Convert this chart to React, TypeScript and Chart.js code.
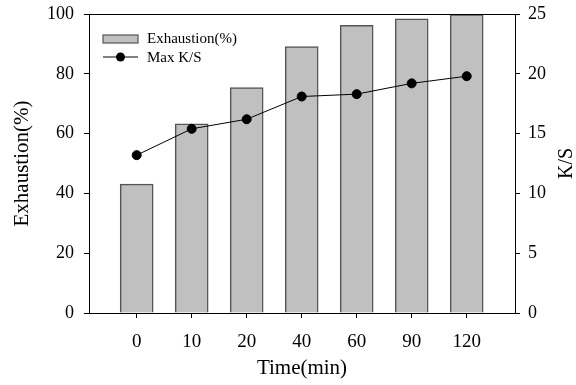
import React, { useEffect, useRef } from "react";
import { Chart, registerables } from "chart.js";

Chart.register(...registerables);

const categories = ["0", "10", "20", "40", "60", "90", "120"];
const exhaustion = [43.1, 63.3, 75.4, 89.1, 96.2, 98.4, 99.8];
const maxKS = [13.2, 15.4, 16.2, 18.1, 18.3, 19.2, 19.8];
const leftTicks = [0, 20, 40, 60, 80, 100];
const rightTicks = [0, 5, 10, 15, 20, 25];

const FONT = "'Liberation Serif', 'Times New Roman', serif";

const overlay = {
  id: "overlay",
  afterDraw(chart: any) {
    const { ctx, chartArea } = chart;
    const { left, right, top, bottom } = chartArea;
    ctx.save();
    // top frame line
    ctx.strokeStyle = "#000";
    ctx.lineWidth = 1;
    ctx.beginPath();
    ctx.moveTo(left, top + 0.5);
    ctx.lineTo(right, top + 0.5);
    ctx.stroke();

    // legend
    const lx = left + 14;
    const ly = top + 21;
    ctx.fillStyle = "#c0c0c0";
    ctx.fillRect(lx, ly, 35, 8);
    ctx.strokeStyle = "#555";
    ctx.lineWidth = 1.2;
    ctx.strokeRect(lx, ly, 35, 8);
    ctx.fillStyle = "#000";
    ctx.font = `15px ${FONT}`;
    ctx.textBaseline = "middle";
    ctx.textAlign = "left";
    ctx.fillText("Exhaustion(%)", lx + 44, ly + 4);
    const ly2 = ly + 22;
    ctx.strokeStyle = "#000";
    ctx.lineWidth = 1;
    ctx.beginPath();
    ctx.moveTo(lx, ly2);
    ctx.lineTo(lx + 35, ly2);
    ctx.stroke();
    ctx.beginPath();
    ctx.arc(lx + 17.5, ly2, 4.5, 0, Math.PI * 2);
    ctx.fill();
    ctx.fillText("Max K/S", lx + 44, ly2 + 1);

    // right title reading bottom-to-top
    ctx.translate(567, (top + bottom) / 2);
    ctx.rotate(-Math.PI / 2);
    ctx.textAlign = "center";
    ctx.font = `20px ${FONT}`;
    ctx.fillText("K/S", 0, 0);
    ctx.restore();
  },
};

const noPad = (s: any, w: number) => {
  s.width = w;
  s.paddingTop = 0;
  s.paddingBottom = 0;
};

export default function App() {
  const ref = useRef<HTMLCanvasElement>(null);
  useEffect(() => {
    document.body.style.margin = "0";
    const chart = new Chart(ref.current as HTMLCanvasElement, {
      type: "bar",
      data: {
        datasets: [
          {
            type: "line",
            label: "Max K/S",
            data: maxKS.map((v, i) => ({ x: i, y: v })),
            yAxisID: "y1",
            borderColor: "#000",
            borderWidth: 1,
            pointRadius: 4.5,
            pointBackgroundColor: "#000",
            pointBorderColor: "#000",
            order: 0,
          } as any,
          {
            type: "bar",
            label: "Exhaustion(%)",
            data: exhaustion.map((v, i) => ({ x: i, y: v })),
            yAxisID: "y",
            backgroundColor: "#c0c0c0",
            borderColor: "#555",
            borderWidth: 1.5,
            barThickness: 33,
            order: 1,
          },
        ],
      },
      options: {
        responsive: false,
        animation: false,
        layout: { padding: { top: 14, left: 0, right: 0, bottom: 0 } },
        plugins: { legend: { display: false }, tooltip: { enabled: false } },
        scales: {
          x: {
            type: "linear",
            offset: false,
            min: -0.867,
            max: 6.878,
            afterBuildTicks: (s: any) => {
              s.ticks = categories.map((_, i) => ({ value: i }));
            },
            afterFit: (s: any) => {
              s.height = 72;
              s.paddingLeft = 0;
              s.paddingRight = 0;
            },
            ticks: {
              callback: (v: any) => categories[v],
              color: "#000",
              font: { family: FONT, size: 19 },
              padding: 13,
              maxRotation: 0,
            },
            grid: {
              offset: false,
              drawOnChartArea: false,
              tickLength: 5,
              tickColor: "#000",
            },
            border: { color: "#000", width: 1 },
            title: {
              display: true,
              text: "Time(min)",
              color: "#000",
              font: { family: FONT, size: 21 },
              padding: { top: 0, bottom: 4 },
            },
          },
          y: {
            position: "left",
            min: 0,
            max: 100,
            afterBuildTicks: (s: any) => {
              s.ticks = leftTicks.map((v) => ({ value: v }));
            },
            afterFit: (s: any) => noPad(s, 89),
            ticks: {
              color: "#000",
              font: { family: FONT, size: 18 },
              padding: 10,
            },
            grid: {
              drawOnChartArea: false,
              tickLength: 5,
              tickColor: "#000",
            },
            border: { color: "#000", width: 1 },
            title: {
              display: true,
              text: "Exhaustion(%)",
              color: "#000",
              font: { family: FONT, size: 21 },
              padding: { top: 10, bottom: 0 },
            },
          },
          y1: {
            position: "right",
            min: 0,
            max: 25,
            afterBuildTicks: (s: any) => {
              s.ticks = rightTicks.map((v) => ({ value: v }));
            },
            afterFit: (s: any) => noPad(s, 61),
            ticks: {
              color: "#000",
              font: { family: FONT, size: 18 },
              padding: 8,
            },
            grid: {
              drawOnChartArea: false,
              tickLength: 5,
              tickColor: "#000",
            },
            border: { color: "#000", width: 1 },
          },
        },
      },
      plugins: [overlay],
    } as any);
    return () => chart.destroy();
  }, []);
  return <canvas ref={ref} width={576} height={385} style={{ display: "block" }} />;
}
